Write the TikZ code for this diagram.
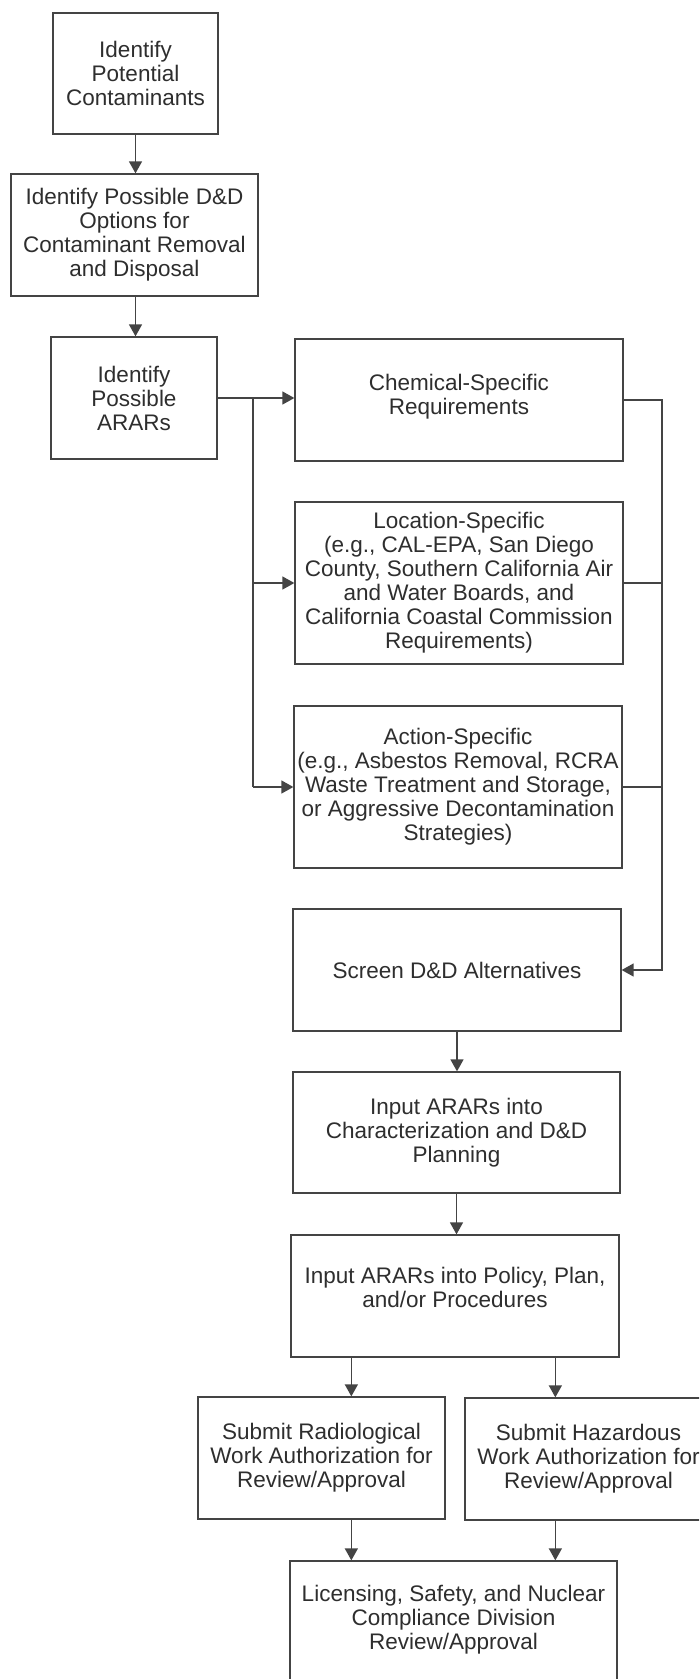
\documentclass[tikz,border=0pt]{standalone}
\usepackage{fontspec}
\setmainfont{Liberation Sans}
\usetikzlibrary{arrows.meta,calc}
\definecolor{ln}{HTML}{444444}
\definecolor{tx}{HTML}{2E2E2E}
\begin{document}
\begin{tikzpicture}[x=1pt,y=-1pt,
  box/.style={draw=ln,line width=1.3pt,rectangle,align=center,inner sep=0pt,
    text=tx,font=\fontsize{22.5}{24}\selectfont},
  conn/.style={draw=ln,line width=1.4pt},
  arr/.style={conn,-{Triangle[length=12pt,width=13pt]}}]
\useasboundingbox (0,0) rectangle (699,1679);
\fill[white] (0,0) rectangle (699,1679);
\clip (0,0) rectangle (699,1679);

\node[box,minimum width=165pt,minimum height=121pt] (b1) at (135.5,73.5) {Identify\\Potential\\Contaminants};
\node[box,minimum width=247pt,minimum height=122pt] (b2) at (134.5,235) {Identify Possible D\&D\\Options for\\Contaminant Removal\\and Disposal};
\node[box,minimum width=166pt,minimum height=122pt] (b3) at (134,398) {Identify\\Possible\\ARARs};
\node[box,minimum width=328pt,minimum height=122pt] (chem) at (459,400) {Chemical-Specific\\Requirements\\[-12pt]};
\node[box,minimum width=328pt,minimum height=162pt] (loc) at (459,583) {Location-Specific\\(e.g., CAL-EPA, San Diego\\County, Southern California Air\\and Water Boards, and\\California Coastal Commission\\Requirements)};
\node[box,minimum width=328pt,minimum height=162pt] (act) at (458,787) {Action-Specific\\(e.g., Asbestos Removal, RCRA\\Waste Treatment and Storage,\\or Aggressive Decontamination\\Strategies)};
\node[box,minimum width=328pt,minimum height=122pt] (scr) at (457,970) {Screen D\&D Alternatives};
\node[box,minimum width=327pt,minimum height=121pt] (char) at (456.5,1132.5) {Input ARARs into\\Characterization and D\&D\\Planning};
\node[box,minimum width=328pt,minimum height=122pt] (pol) at (455,1296) {Input ARARs into Policy, Plan,\\and/or Procedures\\[-6pt]};
\node[box,minimum width=247pt,minimum height=122pt] (rad) at (321.5,1458) {Submit Radiological\\Work Authorization for\\Review/Approval};
\node[box,minimum width=247pt,minimum height=122pt] (haz) at (588.5,1459) {Submit Hazardous\\Work Authorization for\\Review/Approval};
\node[box,minimum width=327pt,minimum height=150pt] (lic) at (453.5,1636) {Licensing, Safety, and Nuclear\\Compliance Division\\Review/Approval\\[14pt]};

\coordinate (lb) at (253,398);
\coordinate (rb) at (662,400);
\coordinate (pl) at ($(pol.south west)+(61,0)$);
\coordinate (pr) at ($(pol.south west)+(265,0)$);

\draw[arr] (b1.south) -- (b1.south |- b2.north);
\draw[arr] (b2.south -| b1.south) -- (b1.south |- b3.north);
\draw[arr] (b3.east) -- (b3.east -| chem.west);
\draw[conn] (b3.east -| lb) -- (lb |- act.west);
\draw[arr] (lb |- loc.west) -- (loc.west);
\draw[arr] (lb |- act.west) -- (act.west);
\draw[arr] (chem.east) -| (rb |- scr.east) -- (scr.east);
\draw[conn] (loc.east) -- (loc.east -| rb);
\draw[conn] (act.east) -- (act.east -| rb);
\draw[arr] (scr.south) -- (scr.south |- char.north);
\draw[arr] (char.south) -- (char.south |- pol.north);
\draw[arr] (pl) -- (pl |- rad.north);
\draw[arr] (pr) -- (pr |- haz.north);
\draw[arr] (rad.south -| pl) -- (pl |- lic.north);
\draw[arr] (haz.south -| pr) -- (pr |- lic.north);
\end{tikzpicture}
\end{document}
